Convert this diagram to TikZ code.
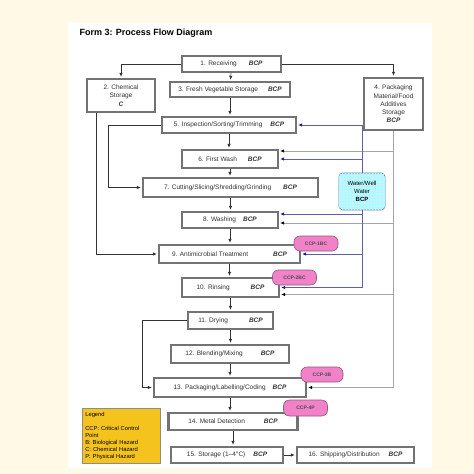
\documentclass[tikz,border=0pt]{standalone}
\usepackage{fontspec}
\setmainfont{Liberation Sans}
\usepackage{tikz}
\usetikzlibrary{arrows.meta}
\usetikzlibrary{patterns}
\usetikzlibrary{calc}
\usepackage{xcolor}
\definecolor{cream}{RGB}{255,249,230}
\definecolor{boxgray}{RGB}{115,115,115}
\definecolor{wline}{RGB}{95,95,165}
\definecolor{warrow}{RGB}{30,30,130}
\definecolor{pline}{RGB}{165,165,165}
\definecolor{ccppink}{RGB}{242,130,200}
\definecolor{ccpedge}{RGB}{140,90,130}
\definecolor{wfill}{RGB}{205,240,250}
\definecolor{wedge}{RGB}{95,125,160}
\definecolor{gold}{RGB}{245,195,30}
\newcommand{\bcp}{\textbf{\textit{BCP}}}

\begin{document}
\begin{tikzpicture}[x=1pt,y=-1pt,
  stp/.style={draw=boxgray,line width=2.4pt,fill=white,inner sep=0pt,align=center,
    text=black!80,font=\fontsize{6.5}{8.3}\selectfont},
  ccp/.style={draw=ccpedge,fill=ccppink,rounded corners=6pt,line width=0.6pt,
    minimum width=44pt,minimum height=15pt,inner sep=0pt,
    font=\fontsize{5}{6}\selectfont\bfseries,text=black!70},
  flow/.style={-{Latex[length=4pt,width=3.4pt]},black!80,line width=0.6pt,shorten >=1pt},
  wflow/.style={-{Latex[length=4pt,width=3.4pt,color=warrow]},wline,line width=0.6pt,shorten >=1pt},
  pflow/.style={-{Latex[length=4pt,width=3.4pt,color=black]},pline,line width=0.6pt,shorten >=1pt}
]
% page
\useasboundingbox (0,0) rectangle (474,474);
\fill[cream] (0,0) rectangle (474,474);
\fill[white] (68,23) rectangle (432,468);
\node[anchor=west,font=\fontsize{9}{11}\selectfont\bfseries] (ttl) at (76,33) {Form 3: Process Flow Diagram};

% steps
\node[stp,minimum width=99pt,minimum height=16pt] (n1) at (231.5,64) {1. Receiving\hspace{12pt}\bcp};
\node[stp,minimum width=68pt,minimum height=33pt] (n2) at (121,95.5) {2. Chemical\\Storage\\\textbf{\textit{C}}};
\node[stp,minimum width=120pt,minimum height=15pt] (n3) at (230,89.5) {3. Fresh Vegetable Storage\hspace{10pt}\bcp};
\node[stp,minimum width=59pt,minimum height=52pt] (n4) at (393.5,104) {4. Packaging\\Material/Food\\Additives\\Storage\\\bcp};
\node[stp,minimum width=134pt,minimum height=16pt] (n5) at (229,125) {5. Inspection/Sorting/Trimming\hspace{8pt}\bcp};
\node[stp,minimum width=96pt,minimum height=18pt] (n6) at (230,159) {6. First Wash\hspace{11pt}\bcp};
\node[stp,minimum width=175pt,minimum height=19pt] (n7) at (230.5,187.5) {7. Cutting/Slicing/Shredding/Grinding\hspace{12pt}\bcp};
\node[stp,minimum width=96pt,minimum height=16pt] (n8) at (230,220) {8. Washing\hspace{7pt}\bcp};
\node[stp,minimum width=141pt,minimum height=18pt] (n9) at (229.5,254) {9. Antimicrobial Treatment\hspace{25pt}\bcp};
\node[stp,minimum width=97pt,minimum height=19pt] (n10) at (230.5,287.5) {10. Rinsing\hspace{21pt}\bcp};
\node[stp,minimum width=85pt,minimum height=17pt] (n11) at (230.5,320.5) {11. Drying\hspace{21pt}\bcp};
\node[stp,minimum width=118pt,minimum height=18pt] (n12) at (230,354) {12. Blending/Mixing\hspace{18pt}\bcp};
\node[stp,minimum width=152pt,minimum height=19pt] (n13) at (230,387.5) {13. Packaging/Labelling/Coding\hspace{7pt}\bcp};
\node[stp,minimum width=129pt,minimum height=17pt] (n14) at (233,421.5) {14. Metal Detection\hspace{19pt}\bcp};
\node[stp,minimum width=112pt,minimum height=16pt] (n15) at (227,455) {15. Storage (1–4°C)\hspace{8pt}\bcp};
\node[stp,minimum width=117pt,minimum height=16pt] (n16) at (355.5,455) {16. Shipping/Distribution\hspace{9pt}\bcp};

% water supply
\node[draw=wedge,line width=0.7pt,fill=wfill,rounded corners=4pt,
  postaction={pattern=grid,pattern color=cyan!35},
  minimum width=46pt,minimum height=37pt,inner sep=0pt,align=center,
  font=\fontsize{6}{8}\selectfont] (wat) at (362,191.5) {Water/Well\\Water\\\textbf{BCP}};

% main line
\draw[flow] (n1.west) -| (n2.north);
\draw[flow] (n1.east) -| (n4.north);
\draw[flow] (n1) -- (n3);
\foreach \a/\b in {3/5,5/6,6/7,7/8,8/9,9/10,10/11,11/12,12/13,13/14,14/15}
  \draw[flow] (n\a.south) -- (n\a.south |- n\b.north);
\draw[flow] (n15) -- (n16);

% by-passes
\draw[flow] ($(n2.south west)+(10,0)$) |- (n9.west);
\draw[flow] (n5.west) -- ++(-53,0) |- (n7.west);
\draw[flow] (n11.west) -- ++(-45,0) |- (n13.west);

% packaging material
\path (n6.east) ++(0,-8) coordinate (g6);
\path (n8.east) ++(0,3) coordinate (g8);
\path (n10.east) ++(0,7) coordinate (g10);
\draw[pflow] (n4.south) |- (n13.east);
\draw[pflow] (g6 -| n4.south) -- (g6);
\draw[pflow] (g8 -| n4.south) -- (g8);
\draw[pflow] (g10 -| n4.south) -- (g10);

% water
\path (n8.east) ++(0,-6) coordinate (w8);
\draw[wflow] (wat.north) |- (n5.east);
\draw[wflow] (wat.north) |- (n6.east);
\draw[wflow] (wat.south) |- (w8);
\draw[wflow] (wat.south) |- (n9.east);
\draw[wflow] (wat.south) |- (n10.east);

% critical control points
\node[ccp] (c1) at (316,243.5) {CCP-1BC};
\node[ccp] (c2) at (294.5,277.5) {CCP-2BC};
\node[ccp,minimum width=42pt] (c3) at (322,374.5) {CCP-3B};
\node[ccp,minimum height=16pt] (c4) at (305.5,408) {CCP-4P};

% legend
\node[draw=black!45,line width=0.6pt,fill=gold,anchor=north west,
  minimum width=78pt,minimum height=55pt,text width=72pt,inner sep=3pt,
  align=left,font=\fontsize{5.8}{6.9}\selectfont] (lgd) at (82,408)
  {Legend\\[7pt]CCP: Critical Control\\Point\\B: Biological Hazard\\C: Chemical Hazard\\P: Physical Hazard};
\end{tikzpicture}
\end{document}
